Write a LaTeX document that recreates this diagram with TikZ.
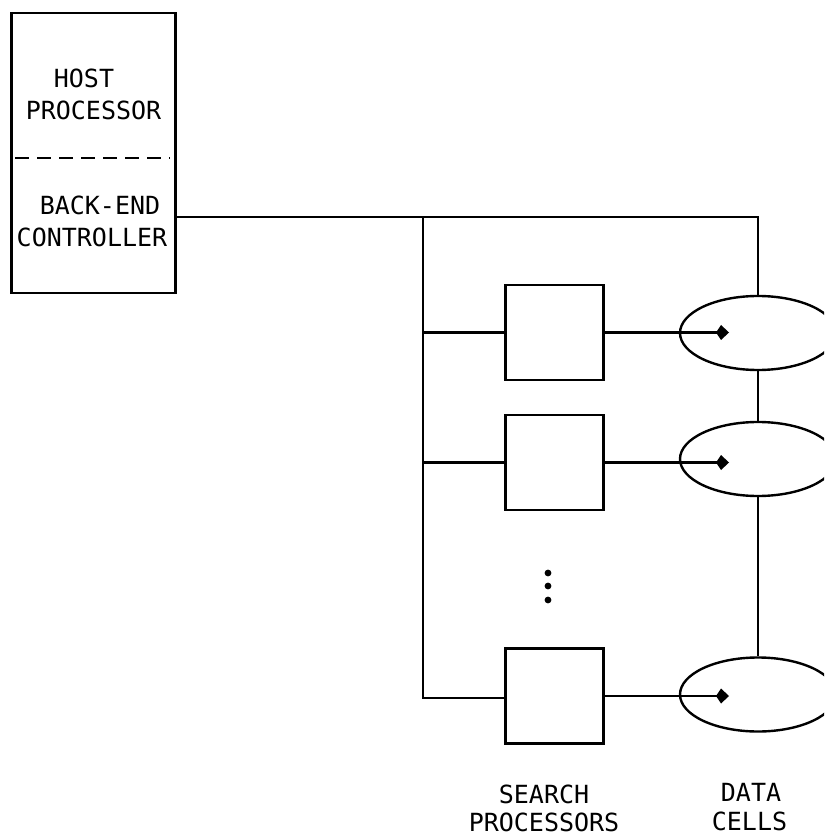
\documentclass[tikz,border=0pt]{standalone}
\usepackage{fontspec}
\setmonofont{DejaVu Sans Mono}
\usetikzlibrary{arrows.meta,shapes.geometric}
\begin{document}
\begin{tikzpicture}[x=0.5pt,y=-0.5pt,
  line width=1.2pt,
  lbl/.style={font=\ttfamily\fontsize{12.5}{15}\selectfont, inner sep=0pt, anchor=base},
  spbox/.style={draw, minimum width=49pt, minimum height=47.5pt, inner sep=0pt},
  cell/.style={draw, ellipse, minimum width=78pt, minimum height=37pt, inner sep=0pt},
  tip/.style={-{Kite[length=6.5pt,width=7.5pt,inset=2.5pt]}}]
\useasboundingbox (0,0) rectangle (824,838);
\clip (0,0) rectangle (824,838);

% host processor / back-end controller
\node[draw, minimum width=82pt, minimum height=140pt, inner sep=0pt] (host) at (93.5,153) {};
\draw[dash pattern=on 7pt off 4pt] (15,158) -- (170,158);
\node[lbl] (host1) at (84,88) {HOST};
\node[lbl] (host2) at (93.5,120) {PROCESSOR};
\node[lbl] (be1) at (100,215) {BACK-END};
\node[lbl] (be2) at (92,247) {CONTROLLER};

% search processors
\node[spbox] (sp1) at (554.5,332.5) {};
\node[spbox] (sp2) at (554.5,462.5) {};
\node[spbox] (sp3) at (554.5,696) {};

% data cells
\node[cell] (dc1) at (758,333) {};
\node[cell] (dc2) at (758,459) {};
\node[cell] (dc3) at (758,694.5) {};
\coordinate (t1) at (729,332.5);
\coordinate (t2) at (729,462.5);
\coordinate (t3) at (729,696);

% bus
\coordinate (bj) at (423,217);
\coordinate (bt) at (758,217);
\coordinate (bb) at (423,698);
\draw (host.east |- bj) -- (bt) -- (dc1.north);
\draw (bj) -- (bb) -- (sp3.west |- bb);
\draw (bj |- sp1.west) -- (sp1.west);
\draw (bj |- sp2.west) -- (sp2.west);
\draw (dc1.south) -- (dc2.north);
\draw (dc2.south) -- (dc3.north);

% search processor to data cell
\draw[tip] (sp1.east) -- (t1);
\draw[tip] (sp2.east) -- (t2);
\draw[tip] (sp3.east) -- (t3);

% ellipsis
\fill (548,573) circle (1.7pt);
\fill (548,586) circle (1.7pt);
\fill (548,600) circle (1.7pt);

% labels
\node[lbl] (sp1lbl) at (544,803) {SEARCH};
\node[lbl] (sp2lbl) at (544,831) {PROCESSORS};
\node[lbl] (dc1lbl) at (751,801) {DATA};
\node[lbl] (dc2lbl) at (749.5,830) {CELLS};
\end{tikzpicture}
\end{document}
